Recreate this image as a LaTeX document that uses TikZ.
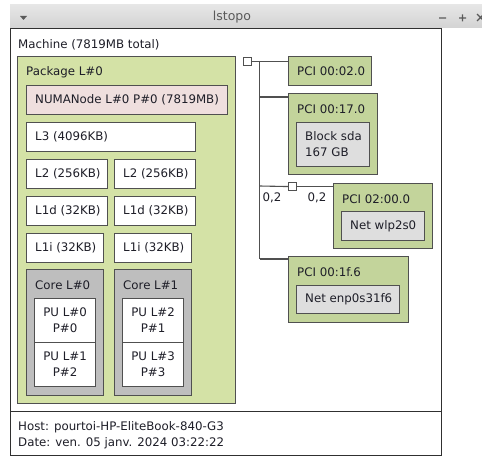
\documentclass[tikz,border=0pt]{standalone}
\usepackage{fontspec}
\setmainfont{DejaVu Sans}
\definecolor{bartop}{HTML}{E6E6E6}
\definecolor{barbot}{HTML}{D3D3D3}
\definecolor{bartxt}{HTML}{5A5A5A}
\definecolor{machcol}{HTML}{303030}
\definecolor{edgecol}{HTML}{505050}
\definecolor{txtcol}{HTML}{1E1E28}
\definecolor{pkgcol}{HTML}{D4E2A6}
\definecolor{pcicol}{HTML}{C3D49B}
\definecolor{numacol}{HTML}{EFDFDE}
\definecolor{corecol}{HTML}{BEBEBE}
\definecolor{devcol}{HTML}{DEDEDE}
\newcommand{\lsfont}{\fontsize{11.8}{16}\selectfont}
\tikzset{
  box/.style={draw=edgecol, line width=1.1pt, anchor=north west, inner sep=0pt, minimum height=29pt},
  lbl/.style={anchor=west, xshift=9pt, inner sep=0pt, text=txtcol, font=\lsfont},
  ttl/.style={lbl, yshift=-16.5pt},
  pu/.style={box, fill=white, minimum width=61pt, minimum height=44pt, align=center, text=txtcol, font=\lsfont},
  bwlbl/.style={inner sep=0pt, text=txtcol, font=\lsfont},
  wire/.style={draw=edgecol, line width=1.1pt},
  knot/.style={box, fill=white, minimum width=8pt, minimum height=8pt}
}
\begin{document}
\begin{tikzpicture}[x=1pt, y=-1pt]
  \useasboundingbox (0,0) rectangle (482,457);
  \clip (0,0) rectangle (482,457);
  % window bar
  \shade[top color=bartop, bottom color=barbot] (10,5) rectangle (482,28);
  \node[font=\fontsize{12.5}{15}\selectfont, text=bartxt] (title) at (232,17) {lstopo};
  \fill[bartxt] (20,16) -- (27,16) -- (23.5,20) -- cycle;
  \draw[bartxt, line width=1.3pt] (439,18) -- (446,18) (459,18) -- (466,18) (462.5,14.5) -- (462.5,21.5)
    (477,14) -- (484,21) (477,21) -- (484,14);

  % machine and legend
  \node[box, draw=machcol, fill=white, minimum width=431pt, minimum height=383pt,
    label={[ttl, xshift=-1pt]north west:{Machine (7819MB total)}}] (machine) at (10,28) {};
  \node[box, draw=machcol, fill=white, minimum width=431pt, minimum height=44pt,
    label={[lbl, xshift=-1pt, yshift=-2pt, align=left]west:{Host: pourtoi-HP-EliteBook-840-G3\\Date: ven. 05 janv. 2024 03:22:22}}] (legend) at (10,411) {};

  % package
  \node[box, fill=pkgcol, minimum width=218pt, minimum height=347pt, label={[ttl]north west:Package L\#0}] (pkg) at (17,56) {};
  \node[box, fill=numacol, minimum width=201pt, label={[lbl]west:NUMANode L\#0 P\#0 (7819MB)}] (numa) at (26,85) {};
  \node[box, fill=white, minimum width=169pt, label={[lbl]west:L3 (4096KB)}] (l3) at (26,122) {};
  \node[box, fill=white, minimum width=81pt, label={[lbl]west:L2 (256KB)}] (l2a) at (26,159) {};
  \node[box, fill=white, minimum width=81pt, label={[lbl]west:L2 (256KB)}] (l2b) at (114,159) {};
  \node[box, fill=white, minimum width=81pt, label={[lbl]west:L1d (32KB)}] (l1da) at (26,196) {};
  \node[box, fill=white, minimum width=81pt, label={[lbl]west:L1d (32KB)}] (l1db) at (114,196) {};
  \node[box, fill=white, minimum width=77pt, label={[lbl]west:L1i (32KB)}] (l1ia) at (26,233) {};
  \node[box, fill=white, minimum width=77pt, label={[lbl]west:L1i (32KB)}] (l1ib) at (114,233) {};
  \node[box, fill=corecol, minimum width=77pt, minimum height=126pt, label={[ttl]north west:Core L\#0}] (core0) at (26,269) {};
  \node[box, fill=corecol, minimum width=77pt, minimum height=126pt, label={[ttl]north west:Core L\#1}] (core1) at (114,269) {};
  \node[pu] (pu0) at (34,298) {PU L\#0\\P\#0};
  \node[pu] (pu1) at (34,342) {PU L\#1\\P\#2};
  \node[pu] (pu2) at (122,298) {PU L\#2\\P\#1};
  \node[pu] (pu3) at (122,342) {PU L\#3\\P\#3};

  % io tree
  \node[knot] (hb) at (243,57) {};
  \node[knot] (br) at (288,182) {};
  \coordinate (j1) at (259.5,61);
  \coordinate (j2) at (259.5,97);
  \coordinate (j3) at (259.5,186);
  \coordinate (j4) at (259.5,259);
  \node[box, fill=pcicol, minimum width=83pt, label={[lbl]west:{PCI 00:02.0}}] (pci1) at (288,56) {};
  \node[box, fill=pcicol, minimum width=89pt, minimum height=81pt, label={[ttl]north west:{PCI 00:17.0}}] (pci2) at (288,93) {};
  \node[box, fill=devcol, minimum width=73pt, minimum height=44pt, label={[lbl, align=left]west:{Block sda\\167 GB}}] (sda) at (296,122) {};
  \node[box, fill=pcicol, minimum width=99pt, minimum height=65pt, label={[ttl]north west:{PCI 02:00.0}}] (pci3) at (333,183) {};
  \node[box, fill=devcol, minimum width=83pt, label={[lbl]west:Net wlp2s0}] (wlp) at (341,211) {};
  \node[box, fill=pcicol, minimum width=120pt, minimum height=66pt, label={[ttl]north west:{PCI 00:1f.6}}] (pci4) at (288,256) {};
  \node[box, fill=devcol, minimum width=103pt, minimum height=28pt, label={[lbl]west:Net enp0s31f6}] (enp) at (296,285) {};
  \node[bwlbl] (bw1) at (272,198) {0,2};
  \node[bwlbl] (bw2) at (317,198) {0,2};

  \draw[wire] (hb.east) -- (hb.east -| pci1.west);
  \draw[wire] (j1) -- (j4);
  \draw[wire] (j2) -- (j2 -| pci2.west);
  \draw[wire] (j3) -- (br.west);
  \draw[wire] (br.east) -- (br.east -| pci3.west);
  \draw[wire] (j4) -- (j4 -| pci4.west);
\end{tikzpicture}
\end{document}
